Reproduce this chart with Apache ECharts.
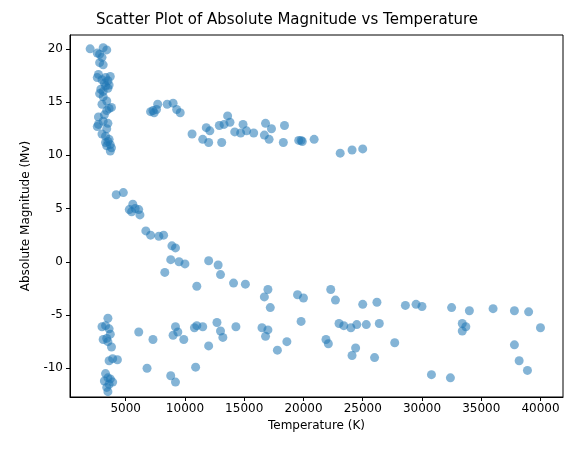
<!DOCTYPE html>
<html><head><meta charset="utf-8">
<script src="https://cdn.jsdelivr.net/npm/echarts@6/dist/echarts.min.js"></script>
<style>html,body{margin:0;padding:0;background:#fff}#c{width:574px;height:455px}</style>
</head><body><div id="c"></div>
<script>
const temperature = [2000,2600,2800,3100,3400,3000,2800,3100,2700,2600,3000,3300,3500,3700,3200,3600,2900,3100,3500,3300,2800,3100,3400,3000,3600,3400,3800,3200,2700,3100,3500,2600,3400,3000,3300,3600,2700,3500,3700,3800,3700,3400,3300,
7100,7300,7600,7700,7400,8500,9000,9300,9600,10600,11500,11800,12100,12000,12900,13100,13300,13600,13800,14200,14700,14900,15200,15800,16700,16800,17300,17100,18300,18400,19600,19900,20900,23100,24100,25000,19800,
4200,4800,5300,5600,5500,5800,6100,6200,6700,7100,7800,8200,8900,9200,8800,9500,8300,10000,12000,12800,13000,11000,14100,15100,16700,17000,17200,19500,20000,22300,22700,25000,26200,28600,29500,30000,32500,34000,36000,37800,39000,
3500,3000,3300,3600,3700,3100,3500,3800,3400,3600,3900,4300,6100,7300,9200,9000,9400,9900,10800,11000,11500,12000,12700,13000,13200,14300,16500,16800,17000,17800,18600,19800,21900,22100,23000,23400,24000,24500,24100,24400,25300,26000,26400,27700,33400,33400,33700,37800,38200,40000,
3300,3500,3600,3400,3700,3900,3200,3500,6800,8800,9200,10900,30800,32400,38900];
const magnitude = [20,19.6,19.5,20.1,19.9,19.2,18.7,18.5,17.6,17.3,17.1,17.3,17.0,17.4,16.8,16.6,16.2,16.0,16.3,16.5,15.8,15.5,15.1,14.8,14.4,14.2,14.5,13.8,13.6,13.2,13.0,12.7,12.5,12.0,11.8,11.5,12.9,11.3,11.0,10.7,10.4,10.9,11.2,
14.1,14.2,14.3,14.8,14.0,14.8,14.9,14.3,14.0,12.0,11.5,12.6,12.3,11.2,12.8,11.2,12.9,13.7,13.1,12.2,12.1,12.9,12.3,12.1,11.9,13.0,12.5,11.5,11.2,12.8,11.4,11.3,11.5,10.2,10.5,10.6,11.4,
6.3,6.5,4.9,5.4,4.7,5.0,4.9,4.4,2.9,2.5,2.4,2.5,1.5,1.3,0.2,0.0,-1.0,-0.2,0.1,-0.3,-1.2,-2.3,-2.0,-2.1,-3.3,-2.6,-4.3,-3.1,-3.4,-2.6,-3.6,-4.0,-3.8,-4.1,-4.0,-4.2,-4.3,-4.6,-4.4,-4.6,-4.7,
-5.3,-6.1,-6.0,-6.3,-6.8,-7.3,-7.5,-8.0,-7.2,-9.3,-9.1,-9.2,-6.6,-7.3,-6.1,-6.9,-6.6,-7.3,-6.2,-6.0,-6.1,-7.9,-5.7,-6.5,-7.1,-6.1,-6.2,-7.0,-6.4,-8.3,-7.5,-5.6,-7.3,-7.7,-5.8,-6.0,-6.2,-5.9,-8.8,-8.1,-5.9,-9.0,-5.8,-7.6,-6.5,-5.8,-6.1,-7.8,-9.3,-6.2,
-10.5,-10.9,-11.5,-11.8,-11.0,-11.3,-11.2,-12.2,-10.0,-10.7,-11.3,-9.9,-10.6,-10.9,-10.2];
const xTicks = [5000,10000,15000,20000,25000,30000,35000,40000];
const yTicks = [-10,-5,0,5,10,15,20];
const pts = temperature.map((t,i)=>[t,magnitude[i]]);
const font = 'DejaVu Sans';
const chart = echarts.init(document.getElementById('c'));
chart.setOption({
  animation:false,
  title:{text:'Scatter Plot of Absolute Magnitude vs Temperature',left:'center',top:8,textStyle:{fontFamily:font,fontSize:15,fontWeight:'normal',color:'#000'}},
  grid:{left:70,right:11,top:35,bottom:58,show:true,borderColor:'#000',borderWidth:1},
  xAxis:{type:'value',min:300,max:41900,name:'Temperature (K)',nameLocation:'middle',nameGap:22,
    nameTextStyle:{fontFamily:font,fontSize:12,color:'#000'},
    axisLine:{onZero:false,lineStyle:{color:'#000'}},splitLine:{show:false},
    axisTick:{show:true,customValues:xTicks,length:4,lineStyle:{color:'#000'}},
    axisLabel:{customValues:xTicks,formatter:v=>String(v),fontFamily:font,fontSize:12,color:'#000',margin:6}},
  yAxis:{type:'value',min:-12.7,max:21.3,name:'Absolute Magnitude (Mv)',nameLocation:'middle',nameGap:38,
    nameTextStyle:{fontFamily:font,fontSize:12,color:'#000'},
    axisLine:{show:true,onZero:false,lineStyle:{color:'#000'}},splitLine:{show:false},
    axisTick:{show:true,customValues:yTicks,length:4,lineStyle:{color:'#000'}},
    axisLabel:{customValues:yTicks,fontFamily:font,fontSize:12,color:'#000',margin:7}},
  series:[{type:'scatter',data:pts,symbolSize:9,itemStyle:{color:'#1f77b4',opacity:0.55}}]
});
</script></body></html>
